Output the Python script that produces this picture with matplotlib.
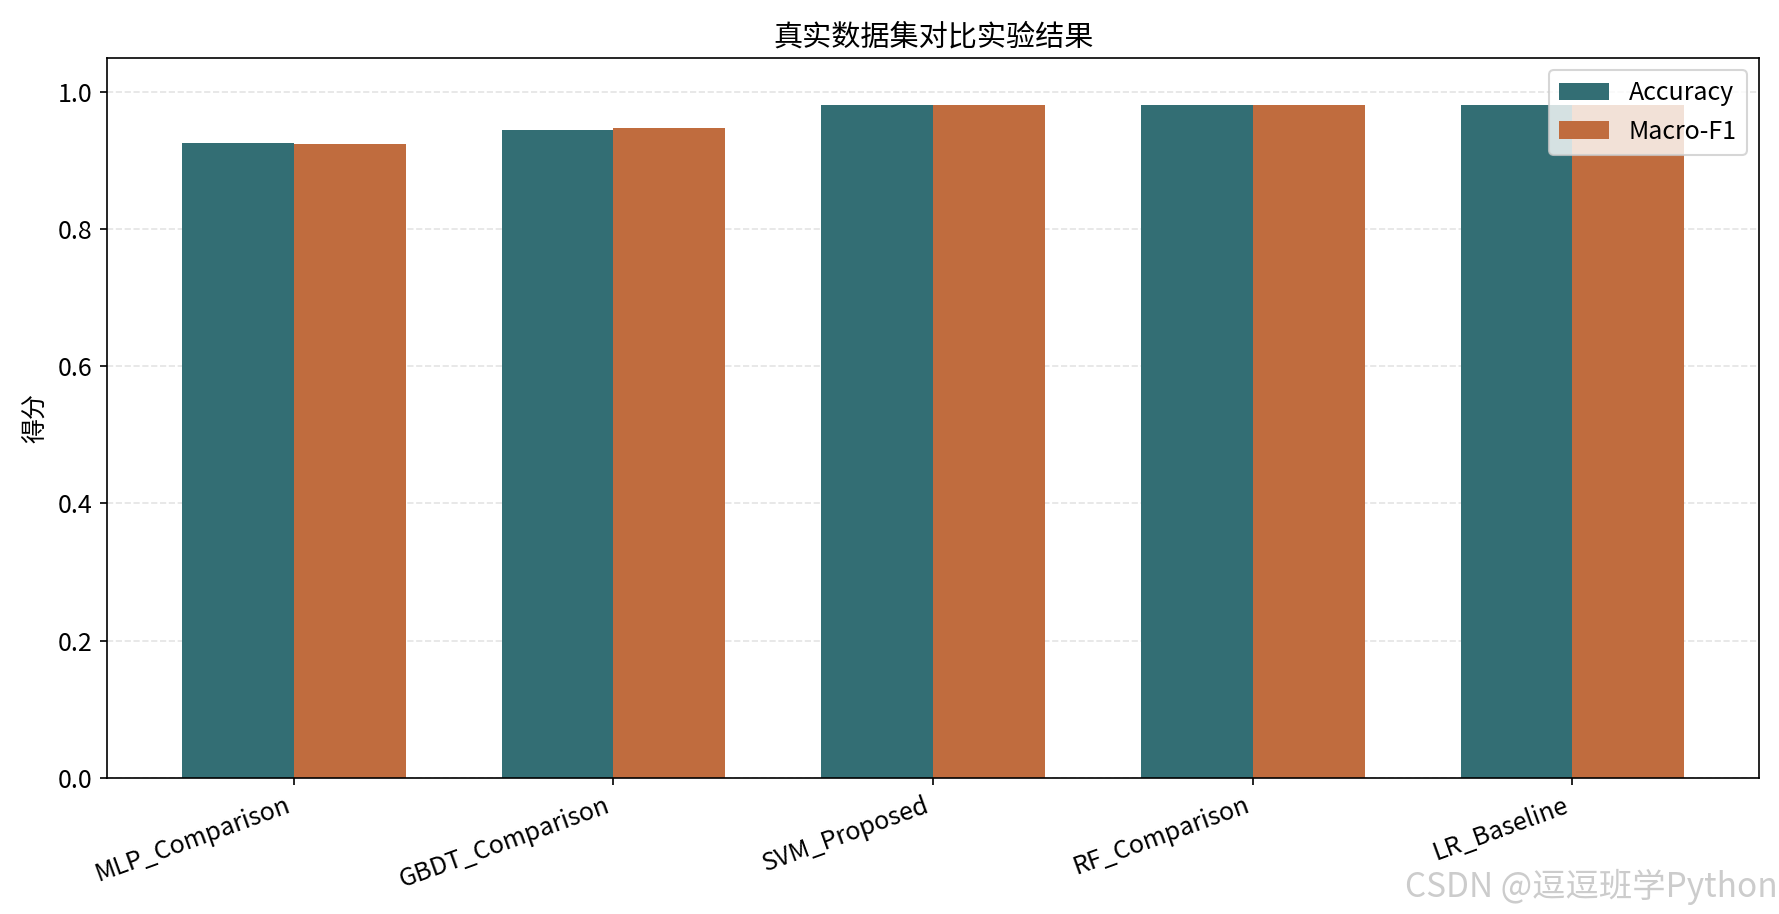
import matplotlib
matplotlib.use("Agg")
import matplotlib.pyplot as plt
import numpy as np

plt.rcParams['font.family'] = ['Noto Sans CJK SC', 'DejaVu Sans']
plt.rcParams['axes.unicode_minus'] = False

models = ["MLP_Comparison", "GBDT_Comparison", "SVM_Proposed", "RF_Comparison", "LR_Baseline"]
accuracy = [0.926, 0.945, 0.981, 0.981, 0.981]
macro_f1 = [0.924, 0.948, 0.981, 0.981, 0.981]

x = np.arange(len(models))
width = 0.35

fig, ax = plt.subplots(figsize=(1779 / 150, 914 / 150), dpi=150)
fig.subplots_adjust(left=0.060, right=0.989, top=0.937, bottom=0.149)

ax.bar(x - width / 2, accuracy, width, label="Accuracy", color="#336e74")
ax.bar(x + width / 2, macro_f1, width, label="Macro-F1", color="#c06c3e")

ax.set_xticks(x)
ax.set_xticklabels(models, rotation=20, ha="right", fontsize=12)
ax.tick_params(axis="y", labelsize=12)
ax.set_ylim(0, 1.05)
ax.set_ylabel("得分", fontsize=12)
ax.set_title("真实数据集对比实验结果", fontsize=14)
ax.grid(axis="y", linestyle="--", alpha=0.35)
ax.set_axisbelow(True)
ax.legend(loc="upper right", fontsize=12)

# watermark from the source picture
fig.text(0.999, 0.010, "CSDN @逗逗班学Python", ha="right", va="bottom",
         fontsize=16, color="#cccccc")

fig.savefig("out.png", dpi=150)
